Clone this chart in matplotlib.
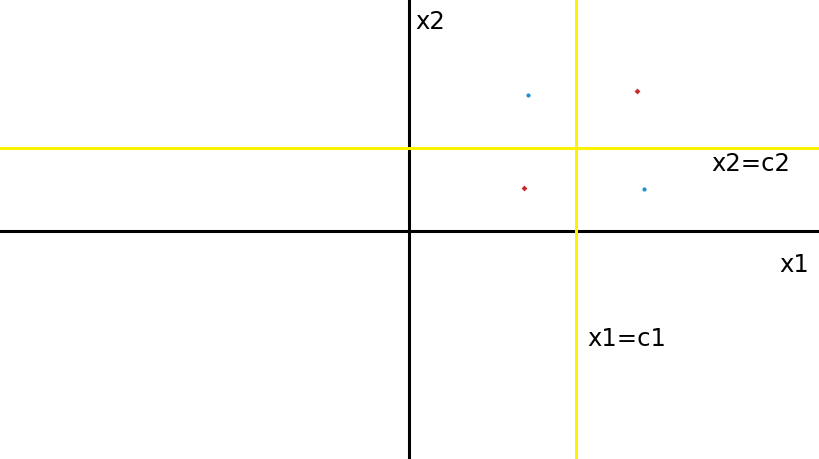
import numpy as np
import matplotlib.pyplot as plt

# data in pixel-like units, origin where the two axes cross
xlim = (-409, 410)
ylim = (-228, 232)
c1 = 167
c2 = 83

blue_x = [119, 235]
blue_y = [136, 42]
red_x = [228, 115]
red_y = [140, 43]

fig = plt.figure(figsize=(8.19, 4.60), dpi=100)
ax = fig.add_axes([0, 0, 1, 1])
ax.set_xlim(*xlim)
ax.set_ylim(*ylim)
ax.axis("off")

# axes
ax.axhline(0, color="black", lw=2.2)
ax.axvline(0, color="black", lw=2.2)

# decision lines
ax.axhline(c2, color="#fff200", lw=2.2)
ax.axvline(c1, color="#fff200", lw=2.2)

ax.plot(blue_x, blue_y, "o", color="#1e8fd0", ms=3, mec="none")
ax.plot(red_x, red_y, "D", color="#c82a2d", ms=3, mec="none")

fs = 17.5
ax.text(6, 210, "x2", fontsize=fs, va="center", ha="left")
ax.text(302, 68, "x2=c2", fontsize=fs, va="center", ha="left")
ax.text(370, -33, "x1", fontsize=fs, va="center", ha="left")
ax.text(178, -107, "x1=c1", fontsize=fs, va="center", ha="left")

fig.savefig("out.png", dpi=100)
